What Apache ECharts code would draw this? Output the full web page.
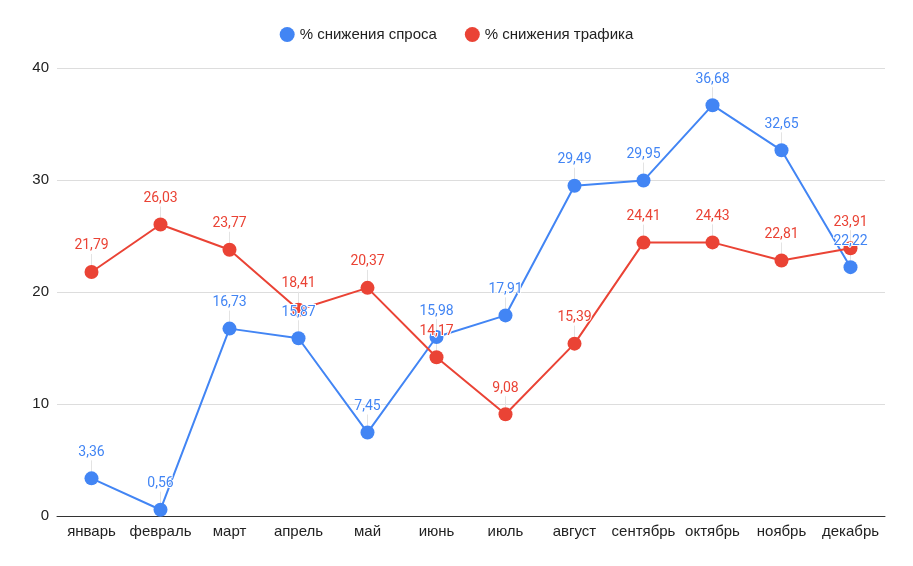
<!DOCTYPE html>
<html>
<head>
<meta charset="utf-8">
<script src="https://cdn.jsdelivr.net/npm/echarts@6/dist/echarts.min.js"></script>
<style>
  html, body { margin: 0; padding: 0; background: #fff; }
  #chart { width: 913px; height: 566px; }
</style>
</head>
<body>
<div id="chart"></div>
<script>
// месяцы
const months = ['январь', 'февраль', 'март', 'апрель', 'май', 'июнь', 'июль', 'август', 'сентябрь', 'октябрь', 'ноябрь', 'декабрь'];
// % снижения спроса
const demandDrop = [3.36, 0.56, 16.73, 15.87, 7.45, 15.98, 17.91, 29.49, 29.95, 36.68, 32.65, 22.22];
// % снижения трафика
const trafficDrop = [21.79, 26.03, 23.77, 18.41, 20.37, 14.17, 9.08, 15.39, 24.41, 24.43, 22.81, 23.91];
const yTicks = [0, 10, 20, 30, 40];

const labelFont = 'Roboto';
const axisFont = '"Liberation Sans", Arial, sans-serif';

function makeSeries(name, data, color) {
  return {
    name: name,
    type: 'line',
    data: data,
    symbol: 'circle',
    symbolSize: 14,
    lineStyle: { width: 2, color: color },
    itemStyle: { color: color },
    label: {
      show: true,
      position: 'top',
      distance: 4,
      color: color,
      fontFamily: labelFont,
      fontSize: 14,
      textBorderColor: '#fff',
      textBorderWidth: 2,
      formatter: p => p.value.toFixed(2).replace('.', ',')
    },
    labelLayout: { dy: -8 },
    labelLine: { show: true, lineStyle: { color: '#e3e3e3', width: 1 } },
    emphasis: { disabled: true }
  };
}

const chart = echarts.init(document.getElementById('chart'));
chart.setOption({
  animation: false,
  color: ['#4285f4', '#ea4335'],
  legend: {
    top: 22,
    left: 'center',
    icon: 'circle',
    itemWidth: 15,
    itemHeight: 15,
    itemGap: 28,
    textStyle: { fontFamily: axisFont, fontSize: 15, color: '#222' }
  },
  grid: { left: 57, right: 28, top: 68, bottom: 50 },
  xAxis: {
    type: 'category',
    data: months,
    boundaryGap: true,
    axisLine: { lineStyle: { color: '#333', width: 1 } },
    axisTick: { show: false },
    axisLabel: { interval: 0, color: '#222', fontFamily: axisFont, fontSize: 15, margin: 8 }
  },
  yAxis: {
    type: 'value',
    min: yTicks[0],
    max: yTicks[yTicks.length - 1],
    interval: 10,
    axisLine: { show: false },
    axisTick: { show: false },
    splitLine: { lineStyle: { color: '#ddd' } },
    axisLabel: { color: '#222', fontFamily: axisFont, fontSize: 15, margin: 8 }
  },
  series: [
    makeSeries('% снижения спроса', demandDrop, '#4285f4'),
    makeSeries('% снижения трафика', trafficDrop, '#ea4335')
  ]
});
</script>
</body>
</html>
